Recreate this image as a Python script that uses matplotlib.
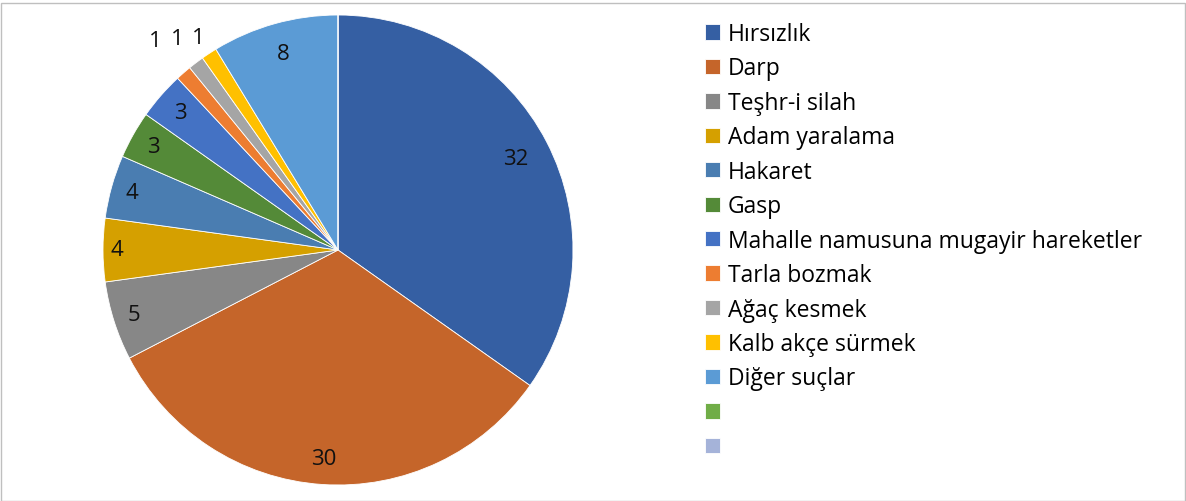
import numpy as np
from matplotlib import pyplot as plt
from matplotlib.patches import Rectangle

plt.rcParams['font.family'] = ['Open Sans', 'DejaVu Sans']

categories = ['Hırsızlık', 'Darp', 'Teşhr-i silah', 'Adam yaralama', 'Hakaret', 'Gasp',
              'Mahalle namusuna mugayir hareketler', 'Tarla bozmak', 'Ağaç kesmek',
              'Kalb akçe sürmek', 'Diğer suçlar', '', '']
values = [32, 30, 5, 4, 4, 3, 3, 1, 1, 1, 8, 0, 0]
colors = ['#355FA3', '#C5652A', '#878787', '#D5A000', '#4A7DB1', '#548A38',
          '#4472C4', '#ED7D31', '#A5A5A5', '#FFC000', '#5B9BD5', '#70AD47', '#A5B3D9']
# radial position of each data label (fraction of radius)
label_r = [0.85, 0.89, 0.91, 0.94, 0.91, 0.90, 0.89, 1.18, 1.13, 1.08, 0.87, 0, 0]

W, H = 1186, 502
fig = plt.figure(figsize=(W/100, H/100), dpi=100)
cx, cy, R = 338, 251, 235
ax = fig.add_axes([(cx-R)/W, (H-cy-R)/H, 2*R/W, 2*R/H])

wedges, _ = ax.pie(values, colors=colors, startangle=90, counterclock=False,
                   radius=1, wedgeprops=dict(edgecolor='white', linewidth=0.6))
ax.set_xlim(-1, 1)
ax.set_ylim(-1, 1)
ax.set_aspect('auto')

for w, v, r in zip(wedges, values, label_r):
    if v == 0:
        continue
    ang = np.deg2rad((w.theta1 + w.theta2)/2)
    ax.text(r*np.cos(ang), r*np.sin(ang), str(v), ha='center', va='center',
            fontsize=16, color='#111111', clip_on=False)

fig.legend(wedges, categories, loc='upper left', bbox_to_anchor=(705/W, 1-23/H),
           frameon=False, fontsize=16.5, handlelength=0.655, handleheight=0.655,
           handletextpad=0.35, labelspacing=0.456, borderaxespad=0, borderpad=0)

fig.patches.append(Rectangle((0.5/W, 0.5/H), 1-1.5/W, 1-4/H, transform=fig.transFigure,
                             fill=False, edgecolor='#BFBFBF', linewidth=1))

plt.savefig('out.png', dpi=100)
